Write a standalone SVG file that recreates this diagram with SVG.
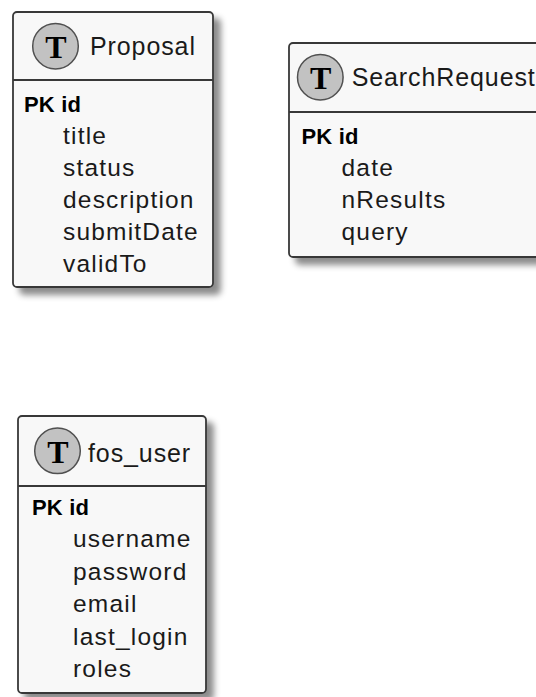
<svg xmlns="http://www.w3.org/2000/svg" width="536" height="697" viewBox="0 0 536 697">
  <defs>
    <filter id="shadow" x="-10%" y="-10%" width="130%" height="130%">
      <feDropShadow dx="7" dy="7" stdDeviation="3" flood-color="#000" flood-opacity="0.45"/>
    </filter>
    <style>
      .box { fill: #F8F8F8; stroke: #383838; stroke-width: 1.8; }
      .sep { stroke: #383838; stroke-width: 1.8; }
      .badge { fill: #C2C2C2; stroke: #505050; stroke-width: 1.5; }
      .badge-t { font-family: "Liberation Serif", serif; font-weight: bold; font-size: 32px; fill: #000; text-anchor: middle; }
      .title { font-family: "Liberation Sans", Arial, sans-serif; font-size: 25px; letter-spacing: 0.9px; fill: #1a1a1a; }
      .pk { font-family: "Liberation Sans", Arial, sans-serif; font-size: 22px; font-weight: bold; letter-spacing: 0.2px; fill: #000; }
      .col { font-family: "Liberation Sans", Arial, sans-serif; font-size: 24.5px; letter-spacing: 1.2px; fill: #1a1a1a; }
    </style>
  </defs>

  <rect width="536" height="697" fill="#FFFFFF"/>

  <!-- table: Proposal -->
  <g id="Proposal">
    <rect class="box" x="13" y="12" width="200" height="275" rx="4" filter="url(#shadow)"/>
    <line class="sep" x1="13" y1="80" x2="213" y2="80"/>
    <circle class="badge" cx="55.5" cy="46.2" r="22.8"/>
    <text class="badge-t" x="55.8" y="58.3">T</text>
    <text class="title" x="90" y="55">Proposal</text>
    <text class="pk" x="24" y="111.5">PK id</text>
    <text class="col" x="63" y="143.6">title</text>
    <text class="col" x="63" y="175.7">status</text>
    <text class="col" x="63" y="207.8">description</text>
    <text class="col" x="63" y="239.9">submitDate</text>
    <text class="col" x="63" y="272">validTo</text>
  </g>

  <!-- table: SearchRequest -->
  <g id="SearchRequest">
    <rect class="box" x="289" y="43" width="270" height="214" rx="4" filter="url(#shadow)"/>
    <line class="sep" x1="289" y1="112" x2="559" y2="112"/>
    <circle class="badge" cx="320.3" cy="77.2" r="22.8"/>
    <text class="badge-t" x="320.6" y="89.3">T</text>
    <text class="title" x="351.7" y="86">SearchRequest</text>
    <text class="pk" x="301.5" y="143.5">PK id</text>
    <text class="col" x="341.5" y="175.6">date</text>
    <text class="col" x="341.5" y="207.7">nResults</text>
    <text class="col" x="341.5" y="239.8">query</text>
  </g>

  <!-- table: fos_user -->
  <g id="fos_user">
    <rect class="box" x="18" y="416" width="188" height="277" rx="4" filter="url(#shadow)"/>
    <line class="sep" x1="18" y1="486" x2="206" y2="486"/>
    <circle class="badge" cx="57.5" cy="450.8" r="22.8"/>
    <text class="badge-t" x="57.8" y="462.9">T</text>
    <text class="title" x="88" y="461.7">fos_user</text>
    <text class="pk" x="32" y="514.5">PK id</text>
    <text class="col" x="73" y="547">username</text>
    <text class="col" x="73" y="579.5">password</text>
    <text class="col" x="73" y="612">email</text>
    <text class="col" x="73" y="644.5">last_login</text>
    <text class="col" x="73" y="677">roles</text>
  </g>

  <!-- relations: none defined between these tables -->
  <g id="connectors"/>
</svg>
